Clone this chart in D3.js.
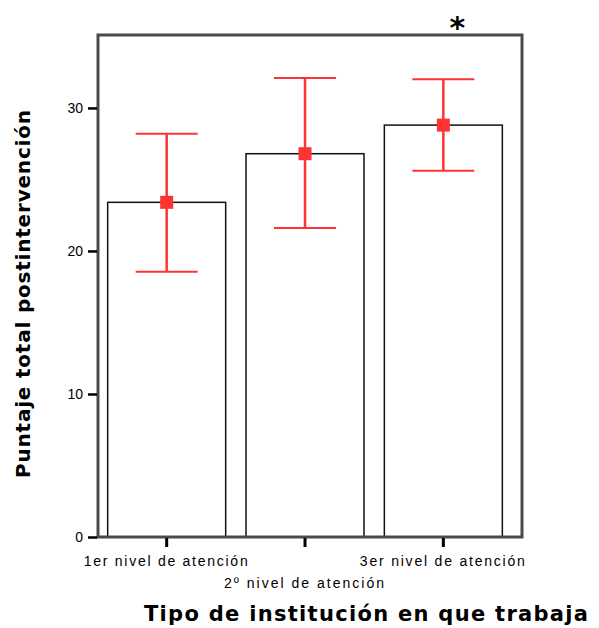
<!DOCTYPE html>
<html>
<head>
<meta charset="utf-8">
<script src="https://cdn.jsdelivr.net/npm/d3@7"></script>
<style>
body { margin: 0; background: #fff; }
svg { display: block; }
</style>
</head>
<body>
<svg width="599" height="628"></svg>
<script>
const categorias = ["1er nivel de atención", "2º nivel de atención", "3er nivel de atención"]
const medias = [23.4, 26.8, 28.8]
const limInf = [18.55, 21.6, 25.6]
const limSup = [28.2, 32.1, 32.0]
const ticksY = [0, 10, 20, 30]

const svg = d3.select("svg")
const mIzq = 98, mDer = 522, mSup = 35, mInf = 537
const rojo = "#ff3333"

const x = d3.scaleBand().domain(categorias).range([mIzq, mDer])
	.paddingInner(0.147).paddingOuter(0.106).align(0.33)
const y = d3.scaleLinear().domain([0, 35.1]).range([mInf, mSup])

// barras
svg.selectAll("rect.barra").data(medias).enter().append("rect")
	.attr("class", "barra")
	.attr("x", (d, i) => x(categorias[i]))
	.attr("y", d => y(d))
	.attr("width", x.bandwidth())
	.attr("height", d => y(0) - y(d))
	.attr("fill", "#fff")
	.attr("stroke", "#111")
	.attr("stroke-width", 1.5)

// marco
svg.append("rect")
	.attr("x", mIzq).attr("y", mSup)
	.attr("width", mDer - mIzq).attr("height", mInf - mSup)
	.attr("fill", "none").attr("stroke", "#4a4a4a").attr("stroke-width", 3)

// eje y
const yAxis = d3.axisLeft(y).tickValues(ticksY).tickSize(9).tickPadding(5)
const gy = svg.append("g").attr("transform", `translate(${mIzq - 1},0)`).call(yAxis)
gy.select(".domain").remove()
gy.selectAll(".tick line").attr("stroke", "#000").attr("stroke-width", 2.5)
gy.selectAll(".tick text").attr("font-family", "Liberation Sans, Arial, sans-serif")
	.attr("font-size", 14).attr("fill", "#000")

// eje x
const xAxis = d3.axisBottom(x).tickSize(9).tickFormat("")
const gx = svg.append("g").attr("transform", `translate(0,${mInf + 1})`).call(xAxis)
gx.select(".domain").remove()
gx.selectAll(".tick line").attr("stroke", "#000").attr("stroke-width", 3)

const anchoCat = [164, 160, 165]
svg.selectAll("text.cat").data(categorias).enter().append("text")
	.attr("class", "cat")
	.attr("x", d => x(d) + x.bandwidth() / 2 - 1)
	.attr("y", (d, i) => i == 1 ? 588 : 566)
	.attr("text-anchor", "middle")
	.attr("font-family", "Liberation Sans, Arial, sans-serif")
	.attr("font-size", 14)
	.attr("textLength", (d, i) => anchoCat[i]).attr("lengthAdjust", "spacing")
	.text(d => d)

// barras de error
const cx = i => x(categorias[i]) + x.bandwidth() / 2
const err = svg.append("g")
medias.forEach((m, i) => {
	err.append("line")
		.attr("x1", cx(i)).attr("x2", cx(i))
		.attr("y1", y(limSup[i])).attr("y2", y(limInf[i]))
		.attr("stroke", rojo).attr("stroke-width", 2.5)
	;[limSup[i], limInf[i]].forEach(v => {
		err.append("line")
			.attr("x1", cx(i) - 31).attr("x2", cx(i) + 31)
			.attr("y1", y(v)).attr("y2", y(v))
			.attr("stroke", rojo).attr("stroke-width", 2)
	})
	err.append("rect")
		.attr("x", cx(i) - 6.5).attr("y", y(m) - 6.5)
		.attr("width", 13).attr("height", 13)
		.attr("fill", rojo)
})

// asterisco
svg.append("text")
	.attr("x", cx(2) + 14).attr("y", 38)
	.attr("text-anchor", "middle")
	.attr("font-family", "DejaVu Sans, sans-serif")
	.attr("font-weight", "bold")
	.attr("font-size", 30)
	.text("*")

// titulos
svg.append("text")
	.attr("transform", "translate(30,294) rotate(-90)")
	.attr("text-anchor", "middle")
	.attr("font-family", "DejaVu Sans, sans-serif")
	.attr("font-weight", "bold")
	.attr("font-size", 20)
	.attr("textLength", 368).attr("lengthAdjust", "spacing")
	.text("Puntaje total postintervención")

svg.append("text")
	.attr("x", 366).attr("y", 621)
	.attr("text-anchor", "middle")
	.attr("font-family", "DejaVu Sans, sans-serif")
	.attr("font-weight", "bold")
	.attr("font-size", 21)
	.attr("textLength", 444).attr("lengthAdjust", "spacing")
	.text("Tipo de institución en que trabaja")
</script>
</body>
</html>
